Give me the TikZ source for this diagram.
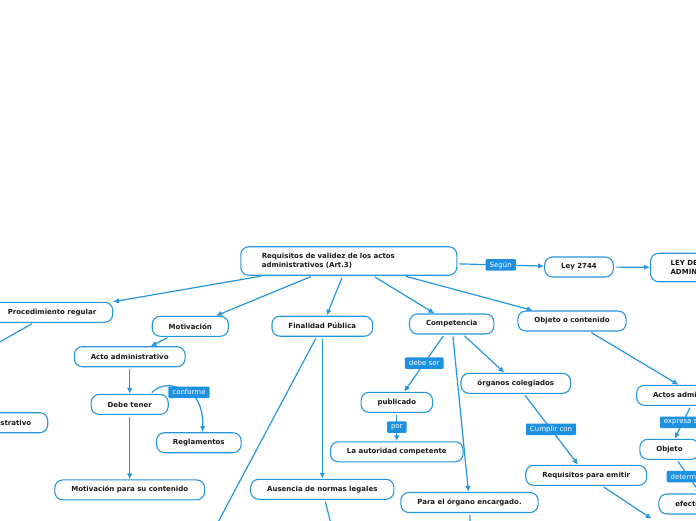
\documentclass[tikz,border=0pt]{standalone}
\usepackage{fontspec}
\setmainfont{DejaVu Sans}
\usetikzlibrary{arrows.meta,positioning}
\definecolor{mmblue}{RGB}{36,150,222}
\definecolor{mmtag}{RGB}{30,144,224}
\definecolor{mmtext}{RGB}{25,25,25}

\begin{document}
\begin{tikzpicture}[x=1pt,y=-1pt,>={Latex[length=6pt,width=5.5pt]},
  idea/.style={draw=mmblue,line width=1.1pt,rounded corners=8pt,fill=white,text=mmtext,font=\fontsize{7}{8.5}\selectfont\bfseries,minimum height=20pt,inner xsep=16.5pt,inner ysep=2pt},
  tag/.style={fill=mmtag,text=white,font=\fontsize{7}{8}\selectfont,rounded corners=1pt,inner xsep=4pt,inner ysep=2pt,minimum height=11.5pt},
  link/.style={->,mmblue,line width=1.2pt,shorten <=2pt}]
  \useasboundingbox (0,0) rectangle (696,520);
  \clip (0,0) rectangle (696,520);
  \node[idea,minimum height=28.5pt,text width=174pt,inner xsep=21pt,align=left] (req) at (348.8,261) {Requisitos de validez de los actos\\administrativos (Art.3)};
  \node[idea] (procreg) at (52,312.3) {Procedimiento regular};
  \node[idea,anchor=east] (procadm) at (48.3,422.7) {Procedimiento administrativo};
  \node[idea] (motiv) at (190.3,326.3) {Motivación};
  \node[idea] (acto) at (129.7,356.7) {Acto administrativo};
  \node[idea,below=26.6pt of acto] (debe) {Debe tener};
  \node[idea,below=64.4pt of debe] (motcont) {Motivación para su contenido};
  \node[idea] (regl) at (198.8,442.7) {Reglamentos};
  \node[idea] (final) at (322.3,326.2) {Finalidad Pública};
  \node[idea,below=142pt of final] (ausencia) {Ausencia de normas legales};
  \node[idea] (compet) at (451.7,324) {Competencia};
  \node[idea] (public) at (396.8,402.3) {publicado};
  \node[idea,below=28.4pt of public] (autor) {La autoridad competente};
  \node[idea] (organo) at (469.5,502.5) {Para el órgano encargado.};
  \node[idea] (coleg) at (515.8,383.3) {órganos colegiados};
  \node[idea] (reqemit) at (586.2,475.3) {Requisitos para emitir};
  \node[idea] (objcont) at (572,321) {Objeto o contenido};
  \node[idea] (ley) at (579,267) {Ley 2744};
  \node[idea,minimum height=28.5pt,align=left,inner xsep=20pt,anchor=west] (leypag) at (650,267.5) {LEY DEL PROCEDIMIENTO\\ADMINISTRATIVO GENERAL};
  \node[idea,anchor=west] (actos) at (636,395.3) {Actos administrativos};
  \node[idea] (objeto) at (669.5,449.3) {Objeto};
  \node[idea,anchor=west] (efectos) at (658.3,504) {efectos jurídicos};
  \coordinate (procregout) at (-60,376);
  \coordinate (finalout) at (200,556);
  \coordinate (ausout) at (335,540);
  \coordinate (organout) at (471,560);
  \coordinate (reqout) at (651.7,518.8);
  \coordinate (conf) at (189,392.3);
  \draw[link] (req) -- (procreg);
  \draw[link] (req) -- (motiv);
  \draw[link] (req) -- (final);
  \draw[link] (req) -- (compet);
  \draw[link] (req) -- (objcont);
  \draw[link] (req) -- node[tag] {Según} (ley);
  \draw[link] (ley) -- (leypag);
  \draw[link] (procreg) -- (procregout);
  \draw[link] (motiv) -- (acto);
  \draw[link] (acto) -- (debe);
  \draw[link] (debe) -- (motcont);
  \draw[link] (debe.27) .. controls +(14,-13) and +(-12,-6) .. (conf) node[tag] {conforme} .. controls +(10,5) and +(1,-20) .. (regl.71);
  \draw[link] (final) -- (finalout);
  \draw[link] (final) -- (ausencia);
  \draw[link] (ausencia) -- (ausout);
  \draw[link] (compet) -- node[tag] {debe ser} (public);
  \draw[link] (public) -- node[tag] {por} (autor);
  \draw[link] (compet) -- (organo);
  \draw[link] (compet) -- (coleg);
  \draw[link] (organo) -- (organout);
  \draw[link] (coleg) -- node[tag] {Cumplir con} (reqemit);
  \draw[link] (reqemit) -- (reqout);
  \draw[link] (objcont) -- (actos);
  \draw[link] (actos) -- node[tag] {expresa su} (objeto);
  \draw[link] (objeto) -- node[tag] {determina} (efectos);
\end{tikzpicture}
\end{document}
